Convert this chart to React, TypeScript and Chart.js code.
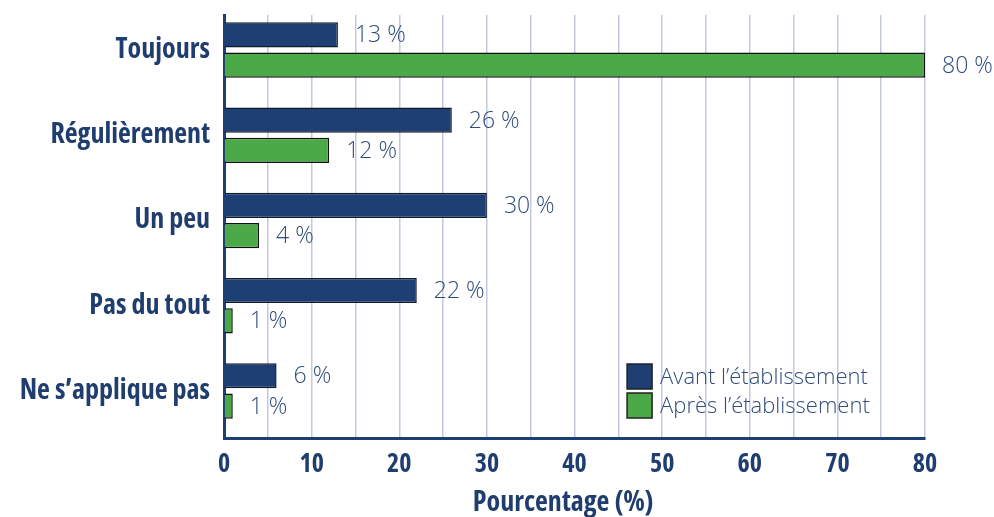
import React, { useEffect, useRef } from "react";
import { Chart, registerables } from "chart.js";

Chart.register(...registerables);

const categories = ["Toujours", "Régulièrement", "Un peu", "Pas du tout", "Ne s’applique pas"];
const avantValues = [13, 26, 30, 22, 6];
const apresValues = [80, 12, 4, 1, 1];
const seriesNames = ["Avant l’établissement", "Après l’établissement"];
const xTickValues = [0, 10, 20, 30, 40, 50, 60, 70, 80];
const axisTitle = "Pourcentage (%)";

const seriesValues = [avantValues, apresValues];

const NAVY = "#1e3f73";
const GREEN = "#4ca948";
const TEXT = "#1f3d6e";
const LIGHT_TEXT = "#2f4c7c";
const FAMILY = "'Open Sans', sans-serif";

const valueLabelPlugin = {
  id: "valueLabels",
  afterDatasetsDraw(chart: any) {
    const ctx = chart.ctx;
    ctx.save();
    ctx.font = `300 23px ${FAMILY}`;
    ctx.fillStyle = LIGHT_TEXT;
    ctx.textAlign = "left";
    ctx.textBaseline = "middle";
    seriesValues.forEach((vals, di) => {
      const meta = chart.getDatasetMeta(di);
      meta.data.forEach((bar: any, i: number) => {
        ctx.fillText(`${vals[i]} %`, bar.x + 17, bar.y + 1);
      });
    });
    ctx.restore();
  },
};

const axisTitlePlugin = {
  id: "axisTitle",
  afterDraw(chart: any) {
    const ctx = chart.ctx;
    const xs = chart.scales.x;
    ctx.save();
    ctx.font = `condensed bold 28px ${FAMILY}`;
    ctx.fillStyle = TEXT;
    ctx.textAlign = "center";
    ctx.textBaseline = "middle";
    ctx.fillText(axisTitle, xs.getPixelForValue(38.7), xs.bottom - 14);
    ctx.restore();
  },
};

const legendPlugin = {
  id: "insideLegend",
  afterDraw(chart: any) {
    const ctx = chart.ctx;
    const xs = chart.scales.x;
    const ys = chart.scales.y;
    const left = xs.getPixelForValue(46.0);
    const top = ys.bottom - 74;
    const box = 25;
    const gap = 29;
    ctx.save();
    chart.data.datasets.forEach((ds: any, i: number) => {
      const y = top + i * gap;
      ctx.fillStyle = ds.backgroundColor;
      ctx.fillRect(left, y, box, box);
      ctx.lineWidth = 1.5;
      ctx.strokeStyle = "#222";
      ctx.strokeRect(left, y, box, box);
      ctx.font = `300 22px ${FAMILY}`;
      ctx.fillStyle = LIGHT_TEXT;
      ctx.textAlign = "left";
      ctx.textBaseline = "middle";
      ctx.fillText(seriesNames[i], left + box + 8, y + box / 2 + 1);
    });
    ctx.restore();
  },
};

export default function App() {
  const ref = useRef<HTMLCanvasElement | null>(null);
  useEffect(() => {
    document.body.style.margin = "0";
    const chart = new Chart(ref.current as HTMLCanvasElement, {
      type: "bar",
      data: {
        labels: categories.map((_, i) => i),
        datasets: [
          {
            label: seriesNames[0],
            data: avantValues.map((v, i) => ({ x: v, y: i })),
            backgroundColor: NAVY,
            borderColor: "#111a2c",
            borderWidth: 1.5,
            categoryPercentage: 0.71,
            barPercentage: 0.83,
          },
          {
            label: seriesNames[1],
            data: apresValues.map((v, i) => ({ x: v, y: i })),
            backgroundColor: GREEN,
            borderColor: "#111",
            borderWidth: 1.5,
            categoryPercentage: 0.71,
            barPercentage: 0.83,
          },
        ],
      },
      options: {
        indexAxis: "y",
        animation: false,
        responsive: false,
        maintainAspectRatio: false,
        layout: { padding: { left: 0, right: 69, top: 15, bottom: 0 } },
        plugins: {
          legend: { display: false },
          tooltip: { enabled: false },
        },
        scales: {
          x: {
            type: "linear",
            min: 0,
            max: 80,
            ticks: {
              stepSize: 5,
              padding: 11,
              color: TEXT,
              font: { family: FAMILY, size: 26, weight: "condensed bold" },
              callback: (v: any) => (xTickValues.includes(Number(v)) ? String(v) : ""),
            },
            grid: { color: "#c3c9e0", lineWidth: 1.5, drawTicks: false },
            border: { display: true, color: NAVY, width: 3 },
            title: { display: false },
            afterFit: (s: any) => {
              s.height = 79;
              s.paddingLeft = 0;
              s.paddingRight = 0;
            },
          },
          y: {
            type: "linear",
            reverse: true,
            offset: false,
            min: -0.41,
            max: 4.552,
            afterBuildTicks: (s: any) => {
              s.ticks = categories.map((_, i) => ({ value: i }));
            },
            ticks: {
              padding: 14,
              color: TEXT,
              font: { family: FAMILY, size: 28, weight: "condensed bold" },
              callback: (v: any) => categories[Number(v)] ?? "",
            },
            grid: { display: false, drawTicks: false, offset: false },
            border: { display: true, color: NAVY, width: 3 },
            afterFit: (s: any) => {
              s.width = 224;
              s.paddingTop = 0;
              s.paddingBottom = 0;
            },
          },
        },
      },
      plugins: [valueLabelPlugin, legendPlugin, axisTitlePlugin],
    } as any);
    return () => chart.destroy();
  }, []);
  return (
    <div style={{ width: 994, height: 517, background: "#fff" }}>
      <canvas ref={ref} width={994} height={517} style={{ display: "block" }} />
    </div>
  );
}
